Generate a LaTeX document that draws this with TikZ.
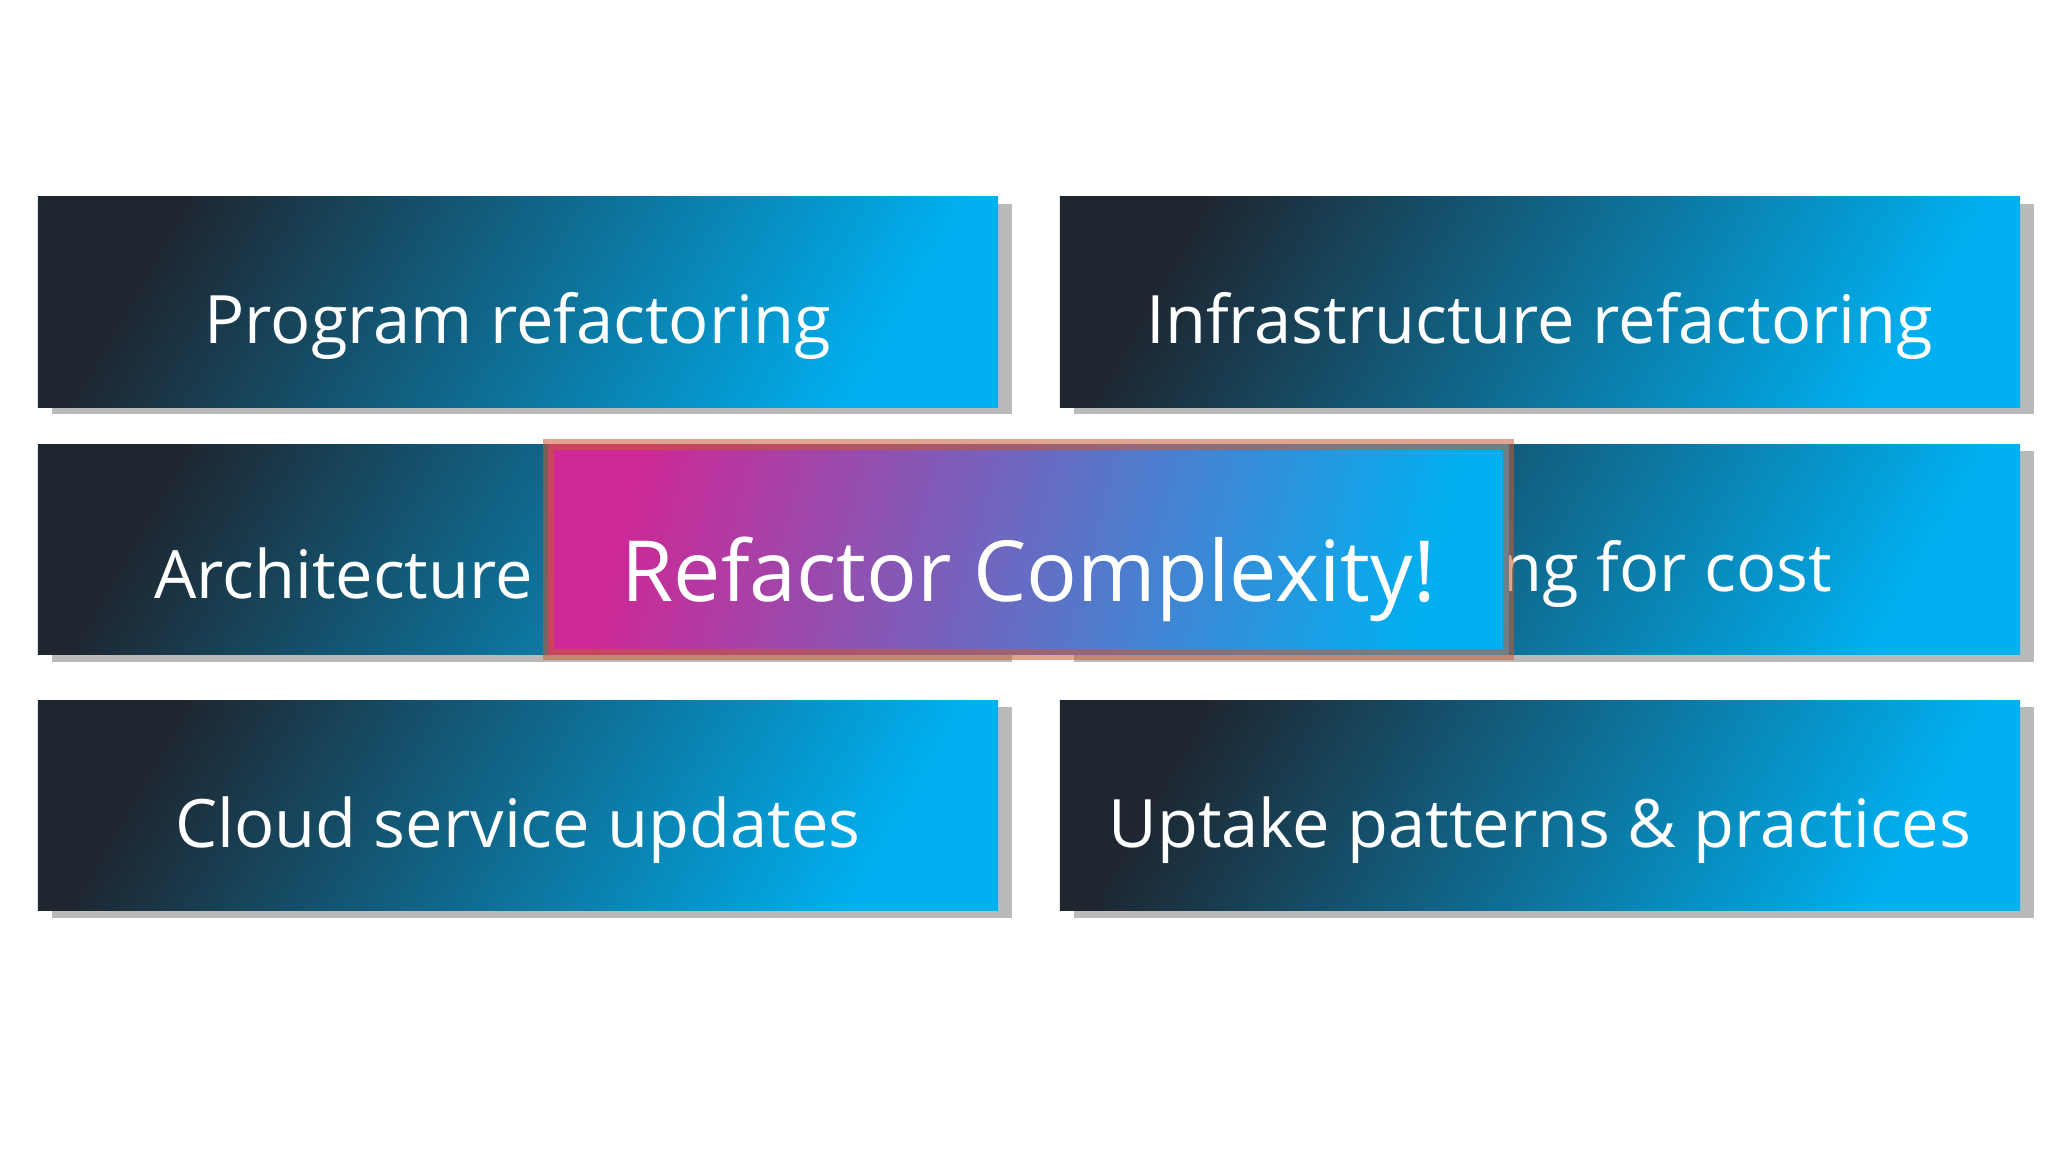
\documentclass[tikz,border=0pt]{standalone}
\usepackage{fontspec}
\setmainfont{Open Sans}
\usetikzlibrary{shadows}

\definecolor{tiledark}{RGB}{30,38,48}
\definecolor{tilecyan}{RGB}{0,176,240}
\definecolor{heropink}{RGB}{205,40,150}
\definecolor{heroedge}{RGB}{200,90,50}

\tikzset{
  tile/.style={minimum width=9.598cm, minimum height=2.10cm, inner sep=0pt, draw=none,
    left color=tiledark, right color=tilecyan, shading angle=60,
    drop shadow={shadow xshift=4pt, shadow yshift=-2pt, fill=black!45, opacity=.6}},
  label/.style={text=white, font=\fontsize{19}{22}\selectfont},
  hero/.style={minimum width=9.598cm, minimum height=2.10cm, inner sep=0pt,
    draw=heroedge, draw opacity=.55, line width=3pt,
    left color=heropink, right color=tilecyan, shading angle=75},
}

\begin{document}
\begin{tikzpicture}[x=0.01313cm, y=-0.01313cm]
\useasboundingbox (0,0) rectangle (1560,877.5);

\node [tile] (prog) at (394.5, 230) {};
\node [tile] (infra) at (1173, 230) {};
\node [tile] (arch) at (394.5, 418.5) {};
\node [tile] (cost) at (1173, 418.5) {};
\node [tile] (cloud) at (394.5, 613.5) {};
\node [tile] (uptake) at (1173, 613.5) {};

\node [label] at (394.5, 248) {Program refactoring};
\node [label] at (1173, 248) {Infrastructure refactoring};
\node [label, anchor=west] at (108, 437) {Architecture};
\node [label, anchor=east] at (1405, 437) {Optimizing for cost};
\node [label] at (394.5, 632) {Cloud service updates};
\node [label] at (1173, 632) {Uptake patterns \& practices};

\node [hero] (complexity) at (783.5, 418.5) {};
\node [label, font=\fontsize{24}{28}\selectfont] at (783.5, 441) {Refactor Complexity!};

\end{tikzpicture}
\end{document}
